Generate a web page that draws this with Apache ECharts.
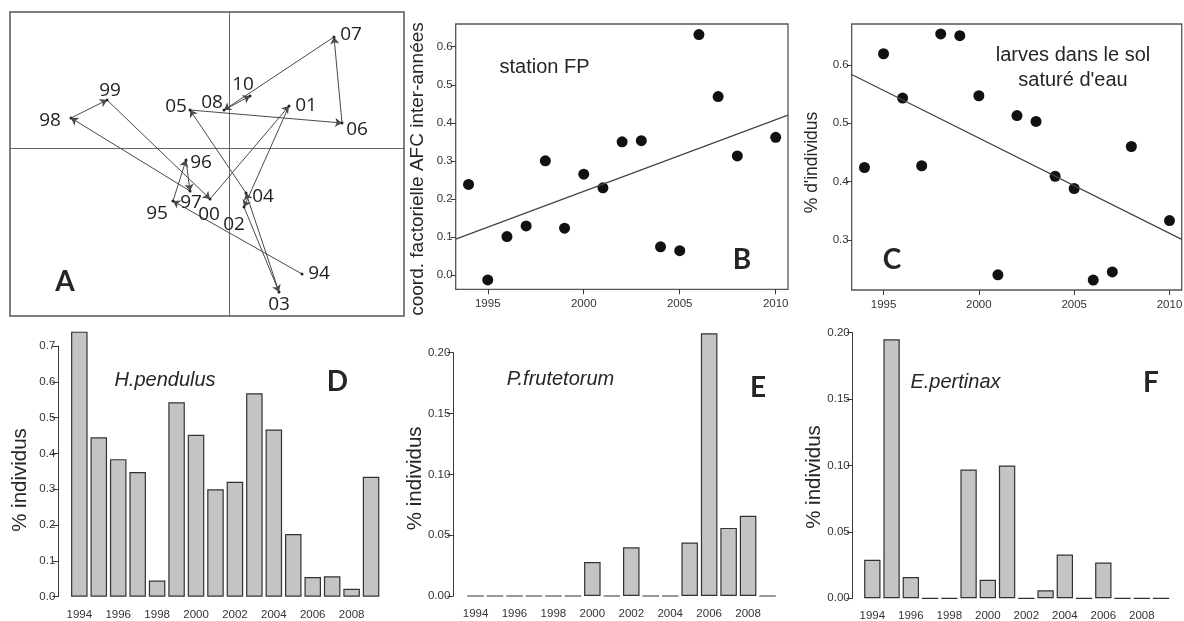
<!DOCTYPE html>
<html><head><meta charset="utf-8">
<script src="https://cdn.jsdelivr.net/npm/echarts@6.0.0/dist/echarts.min.js"></script>
<style>html,body{margin:0;padding:0;background:#fff}#c{width:1184px;height:621px}</style>
</head><body><div id="c"></div>
<script>
// ---------- DATA ----------
const years = ['1994','1995','1996','1997','1998','1999','2000','2001','2002','2003','2004','2005','2006','2007','2008','2010'];
const yearNums = [1994,1995,1996,1997,1998,1999,2000,2001,2002,2003,2004,2005,2006,2007,2008,2010];
// Panel A: trajectory on the first factorial plane (arbitrary units)
const afcLabels = ['94','95','96','97','98','99','00','01','02','03','04','05','06','07','08','10'];
const afcX = [0.73,-0.56,-0.43,-0.39,-1.58,-1.22,-0.19,0.60,0.15,0.50,0.17,-0.39,1.13,1.05,-0.05,0.21];
const afcY = [-1.26,-0.53,-0.12,-0.43,0.30,0.48,-0.51,0.42,-0.59,-1.44,-0.45,0.38,0.25,1.11,0.38,0.52];
// Panel B: coord. factorielle AFC inter-années, station FP
const fpCoord = [0.238,-0.013,0.101,0.129,0.300,0.123,0.265,0.229,0.350,0.353,0.074,0.064,0.632,0.469,0.313,0.362];
// Panel C: % larves dans le sol saturé d'eau
const larvesSature = [0.424,0.619,0.543,0.427,0.653,0.650,0.547,0.240,0.513,0.503,0.409,0.388,0.231,0.245,0.460,0.333];
// Panels D, E, F
const hPendulus = [0.740,0.445,0.384,0.348,0.045,0.543,0.452,0.300,0.321,0.568,0.467,0.175,0.055,0.057,0.022,0.335];
const pFrutetorum = [0,0,0,0,0,0,0.028,0,0.040,0,0,0.044,0.216,0.056,0.066,0];
const ePertinax = [0.029,0.195,0.016,0,0,0.097,0.014,0.100,0,0.006,0.033,0,0.027,0,0,0];
// tick values
const yearTicks = [1995,2000,2005,2010];
const bTicks = [0,0.1,0.2,0.3,0.4,0.5,0.6];
const cTicks = [0.3,0.4,0.5,0.6];

// ---------- STYLE / LAYOUT ----------
const afcLabelOffsets = [[17,0],[-16,13],[15,3],[1,12],[-21,3],[3,-9],[-1,16],[17,0],[-10,18],[0,13],[17,4],[-14,-3],[15,7],[17,-2],[-12,-7],[-7,-11]];
const AX = '#3a3a3a';
const TF = 'Liberation Sans, Arial, sans-serif';
const tickLbl = {fontSize:11.5, color:'#333', fontFamily:TF};

function linFit(xs, ys){
  const n = xs.length;
  const mx = xs.reduce((a,b)=>a+b,0)/n, my = ys.reduce((a,b)=>a+b,0)/n;
  let sxy=0,sxx=0;
  for(let i=0;i<n;i++){sxy+=(xs[i]-mx)*(ys[i]-my);sxx+=(xs[i]-mx)*(xs[i]-mx);}
  const b = sxy/sxx; return {a: my-b*mx, b};
}
const XMIN = 1993.33, XMAX = 2010.64;
const fitB = linFit(yearNums, fpCoord);
const fitC = linFit(yearNums, larvesSature);

function scatterX(gi){
  return {type:'value', gridIndex:gi, min:XMIN, max:XMAX,
    axisLine:{show:false, onZero:false}, splitLine:{show:false},
    axisTick:{show:true, length:5, customValues:yearTicks, lineStyle:{color:AX}},
    axisLabel:Object.assign({customValues:yearTicks, margin:9, formatter:v=>String(Math.round(v))}, tickLbl)};
}
function scatterY(gi,min,max,ticks){
  return {type:'value', gridIndex:gi, min, max,
    axisLine:{show:false, onZero:false}, splitLine:{show:false},
    axisTick:{show:true, length:5, customValues:ticks, lineStyle:{color:AX}},
    axisLabel:Object.assign({customValues:ticks, margin:3, formatter:v=>v.toFixed(1)}, tickLbl)};
}
function barX(gi){
  return {type:'category', gridIndex:gi, data:years,
    axisLine:{show:false, onZero:false}, axisTick:{show:false}, splitLine:{show:false},
    axisLabel:Object.assign({interval:1, margin:12}, tickLbl)};
}
function barY(gi,max,interval,dec,offset){
  return {type:'value', gridIndex:gi, min:0, max, interval, offset,
    axisLine:{show:true, onZero:false, lineStyle:{color:AX, width:1}}, splitLine:{show:false},
    axisTick:{show:true, length:6, lineStyle:{color:AX}},
    axisLabel:Object.assign({margin:3, formatter:v=>v.toFixed(dec)}, tickLbl)};
}
function barSeries(xi, data){
  return {type:'bar', xAxisIndex:xi, yAxisIndex:xi, data, barWidth:'85%', clip:false,
    itemStyle:{color:'#c4c4c4', borderColor:'#333', borderWidth:1.2, opacity:1}, silent:true};
}
function txt(x,y,text,font,opts){
  return Object.assign({type:'text', x, y, silent:true,
    style:{text, font, fill:'#262626', align:'center', verticalAlign:'middle', textAlign:'center', textVerticalAlign:'middle'}}, opts||{});
}

const option = {
  animation:false,
  backgroundColor:'#fff',
  grid:[
    {left:10, top:12, width:394, height:304, show:true, borderColor:'#555', borderWidth:1.5, backgroundColor:'transparent', outerBoundsMode:'none'},
    {left:455.7, top:24, width:332.3, height:265.3, show:true, borderColor:'#555', borderWidth:1.3, backgroundColor:'transparent', outerBoundsMode:'none'},
    {left:851.7, top:24, width:330, height:266, show:true, borderColor:'#555', borderWidth:1.3, backgroundColor:'transparent', outerBoundsMode:'none'},
    {left:69.6, top:346, width:311.2, height:250.7, outerBoundsMode:'none'},
    {left:465.8, top:352.7, width:311.5, height:243.3, outerBoundsMode:'none'},
    {left:862.7, top:332.7, width:308, height:265.6, outerBoundsMode:'none'}
  ],
  xAxis:[
    {type:'value', gridIndex:0, min:-2.19, max:1.75, axisLine:{show:true, onZero:true, lineStyle:{color:'#666', width:1}}, axisTick:{show:false}, axisLabel:{show:false}, splitLine:{show:false}},
    scatterX(1), scatterX(2), barX(3), barX(4), barX(5)
  ],
  yAxis:[
    {type:'value', gridIndex:0, min:-1.68, max:1.36, axisLine:{show:true, onZero:true, lineStyle:{color:'#666', width:1}}, axisTick:{show:false}, axisLabel:{show:false}, splitLine:{show:false}},
    scatterY(1,-0.0376,0.6597,bTicks), scatterY(2,0.214,0.670,cTicks),
    barY(3,0.7,0.1,1,11.3), barY(4,0.2,0.05,2,12.5), barY(5,0.2,0.05,2,10)
  ],
  series:[
    {type:'lines', coordinateSystem:'cartesian2d', xAxisIndex:0, yAxisIndex:0, silent:true,
     symbol:['none','arrow'], symbolSize:7,
     lineStyle:{color:'#4a4a4a', width:1, opacity:1},
     data: afcX.slice(0,-1).map((x,i)=>({coords:[[x,afcY[i]],[afcX[i+1],afcY[i+1]]]}))},
    {type:'scatter', xAxisIndex:0, yAxisIndex:0, symbolSize:3, silent:true,
     itemStyle:{color:'#222', opacity:1},
     label:{show:true, position:'inside', formatter:p=>p.name, fontSize:19, color:'#1e1e1e', fontFamily:'Open Sans, sans-serif'},
     data: afcX.map((x,i)=>({value:[x,afcY[i]], name:afcLabels[i], label:{offset:afcLabelOffsets[i]}}))},
    {type:'scatter', xAxisIndex:1, yAxisIndex:1, symbolSize:11, itemStyle:{color:'#111', opacity:1}, silent:true,
     data: yearNums.map((y,i)=>[y,fpCoord[i]])},
    {type:'line', xAxisIndex:1, yAxisIndex:1, showSymbol:false, symbol:'none', silent:true, clip:true,
     lineStyle:{color:'#444', width:1.3},
     data:[[XMIN, fitB.a+fitB.b*XMIN],[XMAX, fitB.a+fitB.b*XMAX]]},
    {type:'scatter', xAxisIndex:2, yAxisIndex:2, symbolSize:11, itemStyle:{color:'#111', opacity:1}, silent:true,
     data: yearNums.map((y,i)=>[y,larvesSature[i]])},
    {type:'line', xAxisIndex:2, yAxisIndex:2, showSymbol:false, symbol:'none', silent:true, clip:true,
     lineStyle:{color:'#444', width:1.3},
     data:[[XMIN, fitC.a+fitC.b*XMIN],[XMAX, fitC.a+fitC.b*XMAX]]},
    barSeries(3, hPendulus), barSeries(4, pFrutetorum), barSeries(5, ePertinax)
  ],
  graphic:{elements:[
    txt(65,282,'A','bold 28px Lato, sans-serif'),
    txt(742,260,'B','bold 28px Lato, sans-serif'),
    txt(892,260,'C','bold 28px Lato, sans-serif'),
    txt(337.5,382,'D','bold 28px Lato, sans-serif'),
    txt(758,387.5,'E','bold 28px Lato, sans-serif'),
    txt(1151,383,'F','bold 28px Lato, sans-serif'),
    txt(544.5,67,'station FP','20px '+TF),
    txt(1073,55,'larves dans le sol','20px '+TF),
    txt(1073,80,'saturé d\'eau','20px '+TF),
    txt(165,380,'H.pendulus','italic 20px '+TF),
    txt(560.5,379,'P.frutetorum','italic 20px '+TF),
    txt(955.5,382.7,'E.pertinax','italic 20px '+TF),
    txt(417.7,169,'coord. factorielle AFC inter-années','19px '+TF,{rotation:Math.PI/2}),
    txt(811.7,162.5,'% d\'individus','17.5px '+TF,{rotation:Math.PI/2}),
    txt(20.7,480,'% individus','20.5px '+TF,{rotation:Math.PI/2}),
    txt(415,478.3,'% individus','20.5px '+TF,{rotation:Math.PI/2}),
    txt(814,477,'% individus','20.5px '+TF,{rotation:Math.PI/2})
  ]}
};
const chart = echarts.init(document.getElementById('c'), null, {renderer:'canvas'});
chart.setOption(option);
</script></body></html>
